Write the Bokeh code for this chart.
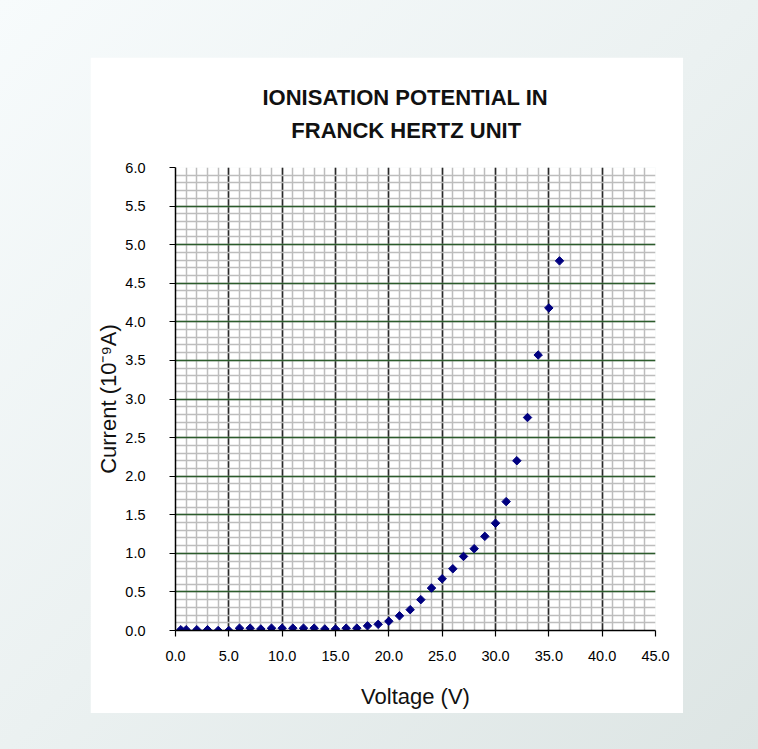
import math
from bokeh.plotting import figure
from bokeh.models import FixedTicker, Column
from bokeh.embed import file_html
from bokeh.resources import INLINE

# ---- data ----
voltage = [0.5, 1, 2, 3, 4, 5, 6, 7, 8, 9, 10, 11, 12, 13, 14, 15, 16, 17, 18,
           19, 20, 21, 22, 23, 24, 25, 26, 27, 28, 29, 30, 31, 32, 33, 34, 35, 36]
current = [0.01, 0.01, 0.01, 0.01, 0.0, 0.0, 0.03, 0.03, 0.02, 0.03, 0.03, 0.03,
           0.03, 0.03, 0.02, 0.02, 0.03, 0.03, 0.06, 0.08, 0.12, 0.19, 0.27, 0.40,
           0.55, 0.67, 0.80, 0.96, 1.06, 1.22, 1.39, 1.67, 2.20, 2.76, 3.57, 4.18, 4.79]

x_ticks = [0, 5, 10, 15, 20, 25, 30, 35, 40, 45]
x_tick_labels = ["0.0", "5.0", "10.0", "15.0", "20.0", "25.0", "30.0", "35.0", "40.0", "45.0"]
x_minor = list(range(0, 46))
y_ticks = [0, 0.5, 1, 1.5, 2, 2.5, 3, 3.5, 4, 4.5, 5, 5.5, 6]
y_tick_labels = ["0.0", "0.5", "1.0", "1.5", "2.0", "2.5", "3.0", "3.5", "4.0", "4.5", "5.0", "5.5", "6.0"]
y_minor = [i / 10 for i in range(0, 61)]

title_lines = ["IONISATION POTENTIAL IN", "FRANCK HERTZ UNIT"]
x_label = "Voltage (V)"
y_label = "Current (10\u207b\u2079A)"

FONT = "Liberation Sans"

# the second line is indented with non-breaking spaces so that it sits centred under the first
title_text = title_lines[0] + "\n" + "\u00a0\u00a0\u00a0\u00a0\u2009" + title_lines[1]

p = figure(width=593, height=656, x_range=(0, 45), y_range=(0, 6),
           output_backend="svg", toolbar_location=None,
           min_border_left=85, min_border_right=28, min_border_top=110, min_border_bottom=83,
           title=title_text)
p.background_fill_color = "white"
p.border_fill_color = "white"
p.outline_line_color = None

p.title.text_font = FONT
p.title.text_font_size = "22px"
p.title.text_font_style = "bold"
p.title.text_color = "#111111"
p.title.text_line_height = 1.29
p.title.align = "left"
p.title.offset = 87
p.title.standoff = 50

xt = FixedTicker(ticks=x_ticks, minor_ticks=x_minor)
yt = FixedTicker(ticks=y_ticks, minor_ticks=y_minor)
p.xaxis.ticker = xt
p.yaxis.ticker = yt
p.xgrid.ticker = xt
p.ygrid.ticker = yt
p.xaxis.major_label_overrides = dict(zip(x_ticks, x_tick_labels))
p.yaxis.major_label_overrides = dict(zip(y_ticks, y_tick_labels))

for ax in (p.xaxis, p.yaxis):
    ax.axis_line_color = "black"
    ax.axis_line_width = 1.5
    ax.major_tick_line_color = "black"
    ax.major_tick_line_width = 1.2
    ax.major_tick_in = 0
    ax.major_tick_out = 6
    ax.minor_tick_line_color = None
    ax.major_label_text_font = FONT
    ax.major_label_text_font_size = "14.5px"
    ax.major_label_text_color = "black"
    ax.axis_label_text_font = FONT
    ax.axis_label_text_font_size = "22px"
    ax.axis_label_text_font_style = "normal"
    ax.axis_label_text_color = "#111111"

p.xaxis.axis_label = x_label
p.yaxis.axis_label = y_label
p.xaxis.major_label_standoff = 14
p.xaxis.axis_label_standoff = 20
p.yaxis.major_label_standoff = 24
p.yaxis.axis_label_standoff = 1

p.xgrid.grid_line_color = "#2a2a2a"
p.xgrid.grid_line_width = 1.6
p.xgrid.minor_grid_line_color = "#bdbdbd"
p.xgrid.minor_grid_line_width = 1.5
p.ygrid.grid_line_color = "#2c5c2c"
p.ygrid.grid_line_width = 1.6
p.ygrid.minor_grid_line_color = "#bdbdbd"
p.ygrid.minor_grid_line_width = 1.5

p.scatter(voltage, current, marker="square", size=6, angle=math.pi / 4,
          fill_color="#000080", line_color="#000080")

layout = Column(children=[p], styles={
    "padding": "57px 75px 36px 90px",
    "background": "linear-gradient(135deg, #f7fbfc 0%, #ebf1f1 50%, #dde5e4 100%)",
})

open("out.html", "w").write(file_html(layout, INLINE))
